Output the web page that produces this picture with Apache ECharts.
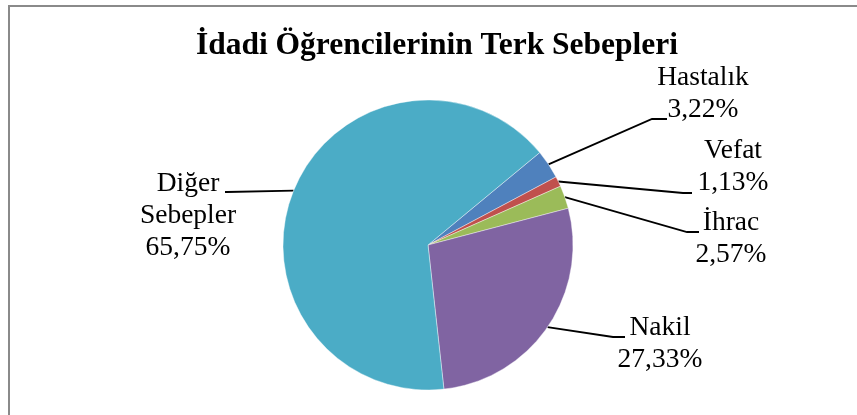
<!DOCTYPE html>
<html>
<head>
<meta charset="utf-8">
<script src="https://cdn.jsdelivr.net/npm/echarts@6/dist/echarts.min.js"></script>
<style>
  html, body { margin: 0; padding: 0; background: #fff; }
  #chart { width: 857px; height: 415px; }
</style>
</head>
<body>
<div id="chart"></div>
<script>
// Reasons for leaving school, in percent
const categories = ['Hastalık', 'Vefat', 'İhrac', 'Nakil', 'Diğer Sebepler'];
const shares = [3.22, 1.13, 2.57, 27.33, 65.75];
const sliceColors = ['#4F81BD', '#C0504D', '#9BBB59', '#8064A2', '#4BACC6'];
const titleText = 'İdadi Öğrencilerinin Terk Sebepleri';

// Label placement: block centre x, block top y, and where the leader line ends
const labelSpots = [
  { cx: 703, top: 62,  endX: 667, endY: 119, elbow: 15 },
  { cx: 733, top: 135, endX: 692, endY: 193, elbow: 9 },
  { cx: 731, top: 207, endX: 699, endY: 232, elbow: 12 },
  { cx: 660, top: 312, endX: 625, endY: 337, elbow: 12 },
  { cx: 188, top: 168, endX: 225, endY: 192, elbow: -2 }
];

const pieCenter = [428, 245];
const pieRadius = 145;
const startAngle = 39.6;

function formatShare(v) {
  return v.toFixed(2).replace('.', ',') + '%';
}

// Point on the pie rim at the middle of slice i
function rimPoint(i) {
  const total = shares.reduce((a, b) => a + b, 0);
  let before = 0;
  for (let k = 0; k < i; k++) before += shares[k];
  const mid = (before + shares[i] / 2) / total * 360;
  const ang = (startAngle - mid) * Math.PI / 180;
  return [pieCenter[0] + pieRadius * Math.cos(ang), pieCenter[1] - pieRadius * Math.sin(ang)];
}

const chart = echarts.init(document.getElementById('chart'), null, { renderer: 'canvas' });

chart.setOption({
  animation: false,
  backgroundColor: '#ffffff',
  title: {
    text: titleText,
    left: 432,
    top: 25,
    textAlign: 'center',
    textStyle: {
      fontFamily: '"Liberation Serif", "Times New Roman", serif',
      fontWeight: 'bold',
      fontSize: 31.5,
      color: '#000'
    }
  },
  graphic: [{
    type: 'rect',
    silent: true,
    shape: { x: 9, y: 6, width: 1200, height: 1000 },
    style: { fill: 'none', stroke: '#8a8a8a', lineWidth: 2 }
  }],
  series: [{
    type: 'pie',
    center: pieCenter,
    radius: pieRadius,
    startAngle: startAngle,
    clockwise: true,
    silent: true,
    itemStyle: { borderColor: '#ffffff', borderWidth: 0.4 },
    label: {
      show: true,
      position: 'outside',
      fontFamily: '"Liberation Serif", "Times New Roman", serif',
      fontSize: 27.5,
      lineHeight: 32,
      color: '#000',
      align: 'center',
      formatter: p => p.name.replace(' ', '\n') + '\n' + formatShare(p.value)
    },
    labelLine: {
      show: true,
      length: 20,
      length2: 10,
      lineStyle: { color: '#000', width: 1.8 }
    },
    labelLayout: function (params) {
      const i = params.dataIndex;
      const s = labelSpots[i];
      const start = rimPoint(i);
      return {
        x: s.cx,
        y: s.top,
        align: 'center',
        verticalAlign: 'top',
        labelLinePoints: [start, [s.endX - s.elbow, s.endY], [s.endX, s.endY]]
      };
    },
    data: categories.map((name, i) => ({
      name: name,
      value: shares[i],
      itemStyle: { color: sliceColors[i] }
    }))
  }]
});
</script>
</body>
</html>
